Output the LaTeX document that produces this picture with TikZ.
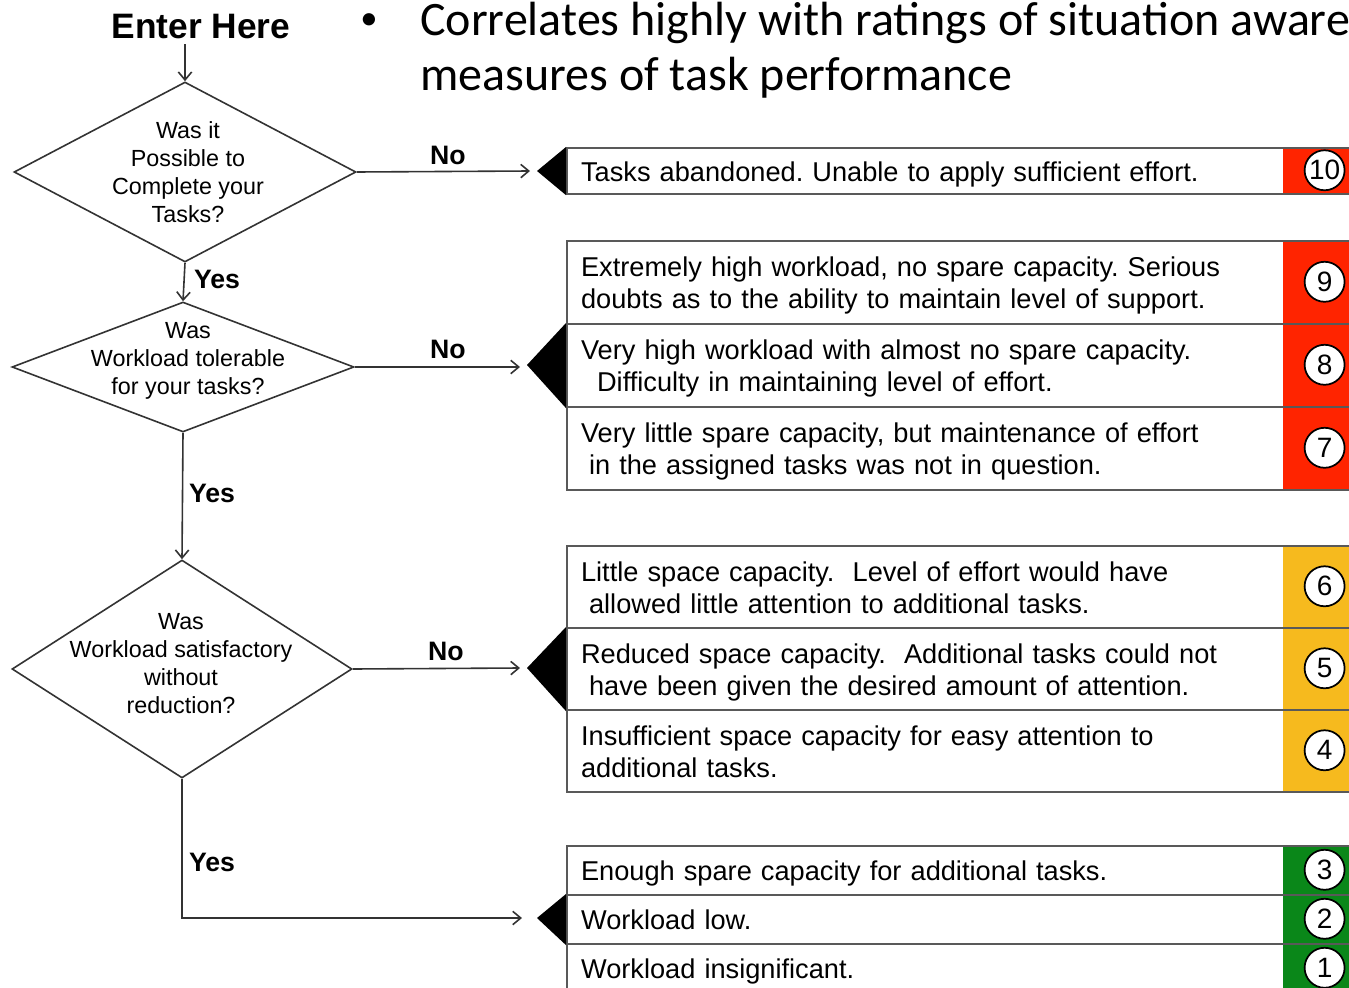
\documentclass[tikz,border=0pt]{standalone}
\usepackage{fontspec}
\setmainfont{Liberation Sans}
\newfontfamily\calibri{Carlito}
\usetikzlibrary{arrows.meta,positioning,shapes.geometric}
\frenchspacing

\definecolor{lvlred}{RGB}{255,36,0}
\definecolor{lvlamber}{RGB}{246,186,30}
\definecolor{lvlgreen}{RGB}{10,135,25}

\begin{document}
\begin{tikzpicture}[x=0.75pt, y=-0.75pt,
    dec/.style={shape=diamond, draw=black!80, line width=1.2pt, inner sep=0pt},
    qtext/.style={align=center, font=\fontsize{17.5}{21}\selectfont},
    yn/.style={font=\fontsize{20}{22}\selectfont\bfseries},
    arr/.style={-{Straight Barb[length=6pt,width=10pt]}, draw=black!80, line width=1.2pt},
    row/.style={draw=black!65, line width=1.6pt, anchor=north west, text width=579pt, align=left, inner xsep=10.5pt, inner ysep=0pt, font=\fontsize{20.4}{24}\selectfont, execute at begin node={\rule{0pt}{19.5pt}}, execute at end node={\rule[-4.3pt]{0pt}{0pt}}},
    cell/.style={anchor=north west, minimum width=62pt, inner sep=0pt},
    num/.style={circle, draw=black, fill=white, line width=1.3pt, minimum size=30pt, inner sep=0pt, font=\fontsize{21}{22}\selectfont}
]
\useasboundingbox (0,0) rectangle (1349,988);

% header
\node[font=\fontsize{26.5}{28}\selectfont\bfseries] (enter) at (201,27) {Enter Here};
\node[font=\calibri\fontsize{26}{28}\selectfont, inner sep=0pt] (dot) at (369,22) {•};
\node[font=\calibri\fontsize{36}{41}\selectfont, anchor=north west, align=left, inner sep=0pt] (note) at (420,2) {Correlates highly with ratings of situation aware\\measures of task performance};

% questions
\node[dec, minimum width=256.5pt, minimum height=135pt] (d1) at (185,172) {};
\node[qtext] (q1) at (188,172) {Was it\\Possible to\\Complete your\\Tasks?};
\node[dec, minimum width=256.5pt, minimum height=97.5pt] (d2) at (183,367) {};
\node[qtext] (q2) at (188,361) {Was\\Workload tolerable\\for your tasks?};
\node[dec, minimum width=255pt, minimum height=163.5pt] (d3) at (182,669) {};
\node[qtext] (q3) at (181,664) {Was\\Workload satisfactory\\without\\reduction?};

% colour cells
\node[cell, fill=lvlred, minimum height=34.5pt] (c10) at (1283,147) {};
\node[cell, fill=lvlred, minimum height=62.25pt] (c9) at (1283,240) {};
\node[cell, fill=lvlred, minimum height=62.25pt] (c8) at (1283,323) {};
\node[cell, fill=lvlred, minimum height=62.25pt] (c7) at (1283,406) {};
\node[cell, fill=lvlamber, minimum height=61.5pt] (c6) at (1283,545) {};
\node[cell, fill=lvlamber, minimum height=61.5pt] (c5) at (1283,627) {};
\node[cell, fill=lvlamber, minimum height=61.5pt] (c4) at (1283,709) {};
\node[cell, fill=lvlgreen, minimum height=36.75pt] (c3) at (1283,845) {};
\node[cell, fill=lvlgreen, minimum height=36.75pt] (c2) at (1283,894) {};
\node[cell, fill=lvlgreen, minimum height=36.75pt] (c1) at (1283,943) {};

% rating rows
\node[row, minimum height=34.5pt] (r10) at (566,147) {Tasks abandoned. Unable to apply sufficient effort.};
\node[row, minimum height=62.25pt] (r9) at (566,240) {Extremely high workload, no spare capacity. Serious\\doubts as to the ability to maintain level of support.};
\node[row, minimum height=62.25pt] (r8) at (566,323) {Very high workload with almost no spare capacity.\\\hspace*{12pt}Difficulty in maintaining level of effort.};
\node[row, minimum height=62.25pt] (r7) at (566,406) {Very little spare capacity, but maintenance of effort\\\hspace*{6pt}in the assigned tasks was not in question.};
\node[row, minimum height=61.5pt] (r6) at (566,545) {Little space capacity.\ \ Level of effort would have\\\hspace*{6pt}allowed little attention to additional tasks.};
\node[row, minimum height=61.5pt] (r5) at (566,627) {Reduced space capacity.\ \ Additional tasks could not\\\hspace*{6pt}have been given the desired amount of attention.};
\node[row, minimum height=61.5pt] (r4) at (566,709) {Insufficient space capacity for easy attention to\\additional tasks.};
\node[row, minimum height=36.75pt] (r3) at (566,845) {Enough spare capacity for additional tasks.};
\node[row, minimum height=36.75pt] (r2) at (566,894) {Workload low.};
\node[row, minimum height=36.75pt] (r1) at (566,943) {Workload insignificant.};

% numbers
\node[num] (n10) at (c10.center) {10};
\node[num] (n9) at (c9.center) {9};
\node[num] (n8) at (c8.center) {8};
\node[num] (n7) at (c7.center) {7};
\node[num] (n6) at (c6.center) {6};
\node[num] (n5) at (c5.center) {5};
\node[num] (n4) at (c4.center) {4};
\node[num] (n3) at (c3.center) {3};
\node[num] (n2) at (c2.center) {2};
\node[num] (n1) at (c1.center) {1};

% pointers
\coordinate (t1) at (537,171);
\coordinate (t2) at (527,365);
\coordinate (t3) at (527,668);
\coordinate (t4) at (537,918);
\fill (t1) -- (r10.north west) -- (r10.south west) -- cycle;
\fill (t2) -- (r8.north west) -- (r8.south west) -- cycle;
\fill (t3) -- (r5.north west) -- (r5.south west) -- cycle;
\fill (t4) -- (r2.north west) -- (r2.south west) -- cycle;
\coordinate (a1) at (530,171);
\coordinate (a2) at (520,367);
\coordinate (a3) at (520,668);
\coordinate (a4) at (522,918);

% flow
\draw[arr] (enter.south -| d1.north) -- (d1.north);
\draw[arr] (d1.south) -- (d2.north);
\draw[arr] (d2.south) -- (d3.north);
\draw[arr] (d3.south) |- (a4);
\draw[arr] (d1.east) -- (a1);
\draw[arr] (d2.east) -- (a2);
\draw[arr] (d3.east) -- (a3);
\node[yn] (no1) at (448,155) {No};
\node[yn] (no2) at (448,349) {No};
\node[yn] (no3) at (446,651) {No};
\node[yn] (yes1) at (217,279) {Yes};
\node[yn] (yes2) at (212,493) {Yes};
\node[yn] (yes3) at (212,862) {Yes};
\end{tikzpicture}
\end{document}
